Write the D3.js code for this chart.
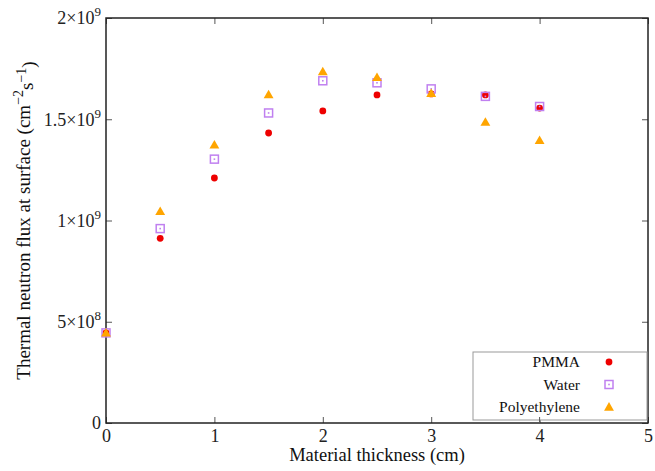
<!DOCTYPE html>
<html>
<head>
<meta charset="utf-8">
<script src="https://cdn.jsdelivr.net/npm/d3@7"></script>
<style>
  html, body { margin: 0; padding: 0; background: #fff; }
  svg { display: block; font-family: "Liberation Serif", "Times New Roman", serif; }
</style>
</head>
<body>
<svg id="chart" width="655" height="471"></svg>
<script>
// Thickness of moderator material (cm)
const thickness = [0, 0.5, 1, 1.5, 2, 2.5, 3, 3.5, 4];
// Thermal neutron flux at surface (cm^-2 s^-1)
const pmma = [4.45e8, 9.12e8, 1.21e9, 1.432e9, 1.541e9, 1.62e9, 1.625e9, 1.62e9, 1.555e9];
const water = [4.45e8, 9.6e8, 1.303e9, 1.531e9, 1.69e9, 1.68e9, 1.65e9, 1.613e9, 1.563e9];
const polyethylene = [4.45e8, 1.045e9, 1.373e9, 1.622e9, 1.735e9, 1.707e9, 1.628e9, 1.486e9, 1.396e9];
const seriesNames = ["PMMA", "Water", "Polyethylene"];
const xTicks = [0, 1, 2, 3, 4, 5];
const yTicks = [0, 5e8, 1e9, 1.5e9, 2e9];
const yTickMantissa = ["0", "5", "1", "1.5", "2"];
const yTickExponent = ["", "8", "9", "9", "9"];

const svg = d3.select("#chart");
const margin = { left: 106, right: 7, top: 18, bottom: 48 };
const W = 655, H = 471;
const x = d3.scaleLinear().domain([0, 5]).range([margin.left, W - margin.right]);
const y = d3.scaleLinear().domain([0, 2e9]).range([H - margin.bottom, margin.top]);

const axisColor = "#222";
const tickLen = 6;

// Bottom axis with inward ticks, and mirrored ticks on top
const gx = svg.append("g").attr("transform", `translate(0,${y(0)})`)
  .call(d3.axisBottom(x).tickValues(xTicks).tickSize(-tickLen).tickPadding(6).tickFormat(d3.format("d")));
const gxTop = svg.append("g").attr("transform", `translate(0,${y(2e9)})`)
  .call(d3.axisTop(x).tickValues(xTicks).tickSize(-tickLen).tickFormat(""));
// Left axis with inward ticks, mirrored on the right
const gy = svg.append("g").attr("transform", `translate(${x(0)},0)`)
  .call(d3.axisLeft(y).tickValues(yTicks).tickSize(-tickLen).tickFormat(""));
const gyRight = svg.append("g").attr("transform", `translate(${x(5)},0)`)
  .call(d3.axisRight(y).tickValues(yTicks).tickSize(-tickLen).tickFormat(""));

[gx, gxTop, gy, gyRight].forEach(g => {
  g.select(".domain").remove();
  g.selectAll(".tick line").attr("stroke", "#555").attr("stroke-width", 1);
  g.selectAll(".tick text").attr("fill", "#222").attr("font-size", 18)
    .attr("font-family", "Liberation Serif, serif");
});

// y tick labels in a×10^n form
gy.selectAll(".tick").each(function(d, i) {
  const t = d3.select(this).select("text").attr("x", -5).attr("dy", "0.32em");
  t.append("tspan").text(yTickMantissa[i] + (yTickExponent[i] ? "×10" : ""));
  if (yTickExponent[i]) {
    t.append("tspan").attr("dy", "-0.6em").attr("font-size", 13).text(yTickExponent[i]);
  }
});

// Frame
svg.append("rect")
  .attr("x", x(0)).attr("y", y(2e9))
  .attr("width", x(5) - x(0)).attr("height", y(0) - y(2e9))
  .attr("fill", "none").attr("stroke", axisColor).attr("stroke-width", 1.5);

// Axis titles
svg.append("text")
  .attr("x", (x(0) + x(5)) / 2).attr("y", 461)
  .attr("text-anchor", "middle").attr("font-size", 18.5).attr("fill", "#111")
  .text("Material thickness (cm)");

const yt = svg.append("text")
  .attr("transform", `translate(30,${(y(0) + y(2e9)) / 2}) rotate(-90)`)
  .attr("text-anchor", "middle").attr("font-size", 19).attr("fill", "#111");
yt.append("tspan").text("Thermal neutron flux at surface (cm");
yt.append("tspan").attr("dy", "-0.5em").attr("font-size", 14).text("−2");
yt.append("tspan").attr("dy", "0.5em").text("s");
yt.append("tspan").attr("dy", "-0.5em").attr("font-size", 14).text("−1");
yt.append("tspan").attr("dy", "0.5em").text(")");

// Marker drawing helpers
const colors = { PMMA: "#ee0000", Water: "#c080f0", Polyethylene: "#ffa500" };
function drawMarker(g, name, cx, cy) {
  if (name === "PMMA") {
    g.append("circle").attr("cx", cx).attr("cy", cy).attr("r", 3.4).attr("fill", colors.PMMA);
  } else if (name === "Water") {
    g.append("rect").attr("x", cx - 4).attr("y", cy - 4).attr("width", 8).attr("height", 8)
      .attr("fill", "none").attr("stroke", colors.Water).attr("stroke-width", 1.5);
    g.append("rect").attr("x", cx - 0.8).attr("y", cy - 0.8).attr("width", 1.6).attr("height", 1.6)
      .attr("fill", colors.Water);
  } else {
    g.append("path")
      .attr("d", d3.symbol().type(d3.symbolTriangle).size(42)())
      .attr("transform", `translate(${cx},${cy + 0.8})`)
      .attr("fill", colors.Polyethylene);
  }
}

// Data points
const allSeries = [pmma, water, polyethylene];
const pts = svg.append("g");
allSeries.forEach((vals, si) => {
  vals.forEach((v, i) => drawMarker(pts, seriesNames[si], x(thickness[i]), y(v)));
});

// Legend
const lg = svg.append("g");
lg.append("rect").attr("x", 473).attr("y", 352).attr("width", 174).attr("height", 68)
  .attr("fill", "#fff").attr("stroke", "#999").attr("stroke-width", 1);
seriesNames.forEach((name, i) => {
  const cy = 362 + i * 22.5;
  lg.append("text").attr("x", 580).attr("y", cy).attr("dy", "0.35em")
    .attr("text-anchor", "end").attr("font-size", 15.5).attr("fill", "#111").text(name);
  drawMarker(lg, name, 609, cy);
});
// bottom tick at x=4 remains visible over the legend
svg.append("line").attr("x1", x(4)).attr("x2", x(4)).attr("y1", y(0)).attr("y2", y(0) - tickLen)
  .attr("stroke", "#555");
</script>
</body>
</html>
